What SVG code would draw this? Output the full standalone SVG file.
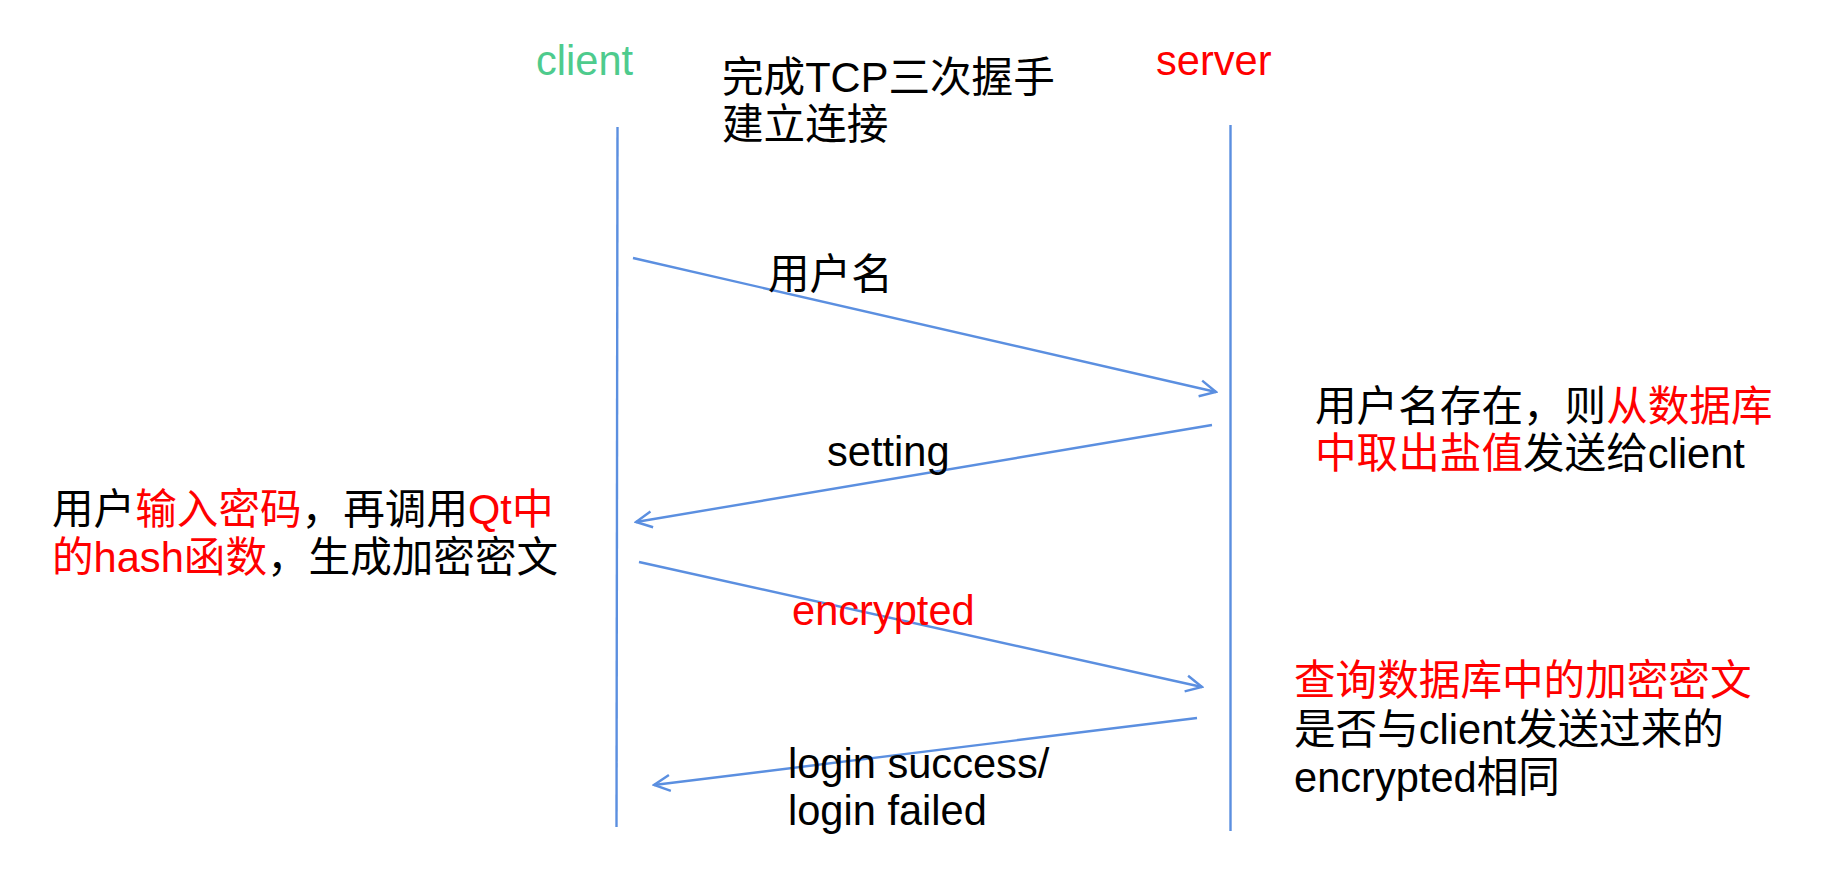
<svg xmlns="http://www.w3.org/2000/svg" width="1848" height="878" viewBox="0 0 1848 878">
<defs>
<style>
text{font-family:"Liberation Sans","Noto Sans CJK SC",sans-serif;font-size:41.6px;fill:#000}
.r{fill:#FF0000}
.g{fill:#4ECB8D}
.ln{stroke:#5B8FE0;stroke-width:2.4;fill:none}
</style>
<marker id="ah" viewBox="0 0 20 20" refX="18" refY="10" markerWidth="20" markerHeight="20" markerUnits="userSpaceOnUse" orient="auto">
<path d="M2,2 L18,10 L2,18" fill="none" stroke="#5B8FE0" stroke-width="2.4"/>
</marker>
</defs>
<rect width="1848" height="878" fill="#fff"/>
<g id="client">
<text class="g" x="536" y="75">client</text>
<line class="ln" x1="617.5" y1="127" x2="616.5" y2="827"/>
</g>
<g id="server">
<text class="r" x="1156" y="75">server</text>
<line class="ln" x1="1230.5" y1="125" x2="1230.5" y2="831"/>
</g>
<g id="note-tcp">
<text x="722" y="92">完成TCP三次握手</text>
<text x="722" y="139">建立连接</text>
</g>
<g id="note-server1">
<text x="1315" y="421">用户名存在，则<tspan class="r">从数据库</tspan></text>
<text x="1315" y="468"><tspan class="r">中取出盐值</tspan>发送给client</text>
</g>
<g id="note-client">
<text x="52" y="524">用户<tspan class="r">输入密码</tspan>，再调用<tspan class="r">Qt中</tspan></text>
<text x="52" y="572"><tspan class="r">的hash函数</tspan>，生成加密密文</text>
</g>
<g id="note-server2">
<text class="r" x="1294" y="695">查询数据库中的加密密文</text>
<text x="1294" y="744">是否与client发送过来的</text>
<text x="1294" y="792">encrypted相同</text>
</g>
<g id="connectors">
<line class="ln" x1="633" y1="258" x2="1216" y2="392" marker-end="url(#ah)"/>
<text x="768" y="289">用户名</text>
<line class="ln" x1="1212" y1="425" x2="636" y2="522" marker-end="url(#ah)"/>
<text x="827" y="466">setting</text>
<line class="ln" x1="639" y1="562" x2="1202" y2="687" marker-end="url(#ah)"/>
<text class="r" x="792" y="625">encrypted</text>
<line class="ln" x1="1197" y1="718" x2="654" y2="785" marker-end="url(#ah)"/>
<text x="788" y="778">login success/</text>
<text x="788" y="825">login failed</text>
</g>
</svg>
